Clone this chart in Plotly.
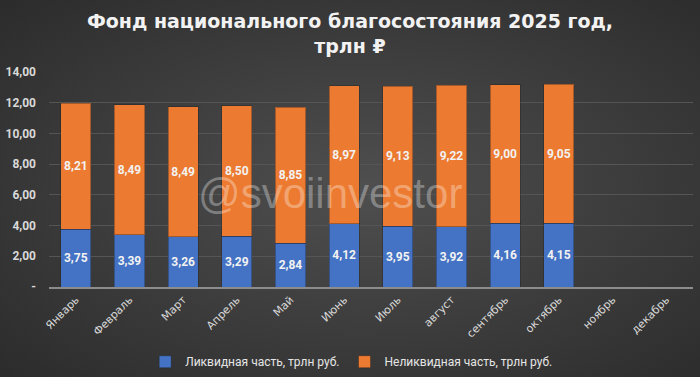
import plotly.graph_objects as go
import urllib.parse

months = ["Январь", "Февраль", "Март", "Апрель", "Май", "Июнь", "Июль",
          "август", "сентябрь", "октябрь", "ноябрь", "декабрь"]
liquid = [3.75, 3.39, 3.26, 3.29, 2.84, 4.12, 3.95, 3.92, 4.16, 4.15, None, None]
illiquid = [8.21, 8.49, 8.49, 8.50, 8.85, 8.97, 9.13, 9.22, 9.00, 9.05, None, None]
ytick_vals = [0, 2, 4, 6, 8, 10, 12, 14]
ytick_text = ["-", "2,00", "4,00", "6,00", "8,00", "10,00", "12,00", "14,00"]

W, H = 700, 377
L, R, T, B = 49, 7, 72, 90
pw, ph = W - L - R, H - T - B


def fmt(v):
    return "" if v is None else f"{v:.2f}".replace(".", ",")


svg = (
    f'<svg xmlns="http://www.w3.org/2000/svg" width="{W}" height="{H}" viewBox="0 0 {W} {H}" preserveAspectRatio="none">'
    '<defs><radialGradient id="g" cx="0.52" cy="0.5" r="0.75">'
    '<stop offset="0" stop-color="#4f4f4f"/><stop offset="1" stop-color="#2a2a2a"/>'
    '</radialGradient></defs>'
    f'<rect width="{W}" height="{H}" fill="url(#g)"/></svg>'
)
bg_src = "data:image/svg+xml;charset=utf-8," + urllib.parse.quote(svg)

fig = go.Figure()
fig.add_trace(go.Bar(
    x=months, y=liquid, name="Ликвидная часть, трлн руб.",
    marker=dict(color="#4472C4", line=dict(color="rgba(30,30,30,0.35)", width=1)),
    text=[fmt(v) for v in liquid], textposition="inside", insidetextanchor="middle",
    textfont=dict(color="#f2f2f2", size=12, family="Roboto", weight="bold"),
))
fig.add_trace(go.Bar(
    x=months, y=illiquid, name="Неликвидная часть, трлн руб.",
    marker=dict(color="#EC7A30", line=dict(color="rgba(30,30,30,0.35)", width=1)),
    text=[fmt(v) for v in illiquid], textposition="inside", insidetextanchor="middle",
    textfont=dict(color="#f2f2f2", size=12, family="Roboto", weight="bold"),
))

fig.update_layout(
    width=W, height=H,
    barmode="stack", bargap=0.44,
    paper_bgcolor="#3a3a3a", plot_bgcolor="rgba(0,0,0,0)",
    margin=dict(l=L, r=R, t=T, b=B, pad=0, autoexpand=False),
    title=dict(
        text="Фонд национального благосостояния 2025 год,<br>трлн ₽",
        x=0.5, xref="container", xanchor="center", y=0.925, yanchor="top",
        font=dict(family="DejaVu Sans", size=19, color="#f2f2f2", weight="bold"),
    ),
    showlegend=True,
    legend=dict(orientation="h", x=0.47, xanchor="center", y=-0.28, yanchor="top",
                traceorder="normal",
                font=dict(family="Roboto", size=12, color="#e6e6e6"),
                bgcolor="rgba(0,0,0,0)", itemwidth=30),
    uniformtext=dict(mode="show", minsize=11),
    images=[dict(source=bg_src, xref="paper", yref="paper",
                 x=-L / pw, y=1 + T / ph, sizex=W / pw, sizey=H / ph,
                 xanchor="left", yanchor="top", sizing="stretch", layer="below")],
    annotations=[dict(text="@svoiinvestor", x=0.436, y=0.437, xref="paper", yref="paper",
                      showarrow=False,
                      font=dict(family="Liberation Sans", size=42, color="rgba(255,255,255,0.33)"))],
)
fig.update_xaxes(
    tickangle=-45, tickfont=dict(family="DejaVu Sans", size=11, color="#d9d9d9"),
    showgrid=False, showline=True, linecolor="#8c8c8c", linewidth=2, ticks="",
    automargin=False,
)
fig.update_yaxes(
    range=[0, 14.0], tickvals=ytick_vals, ticktext=ytick_text,
    tickfont=dict(family="Roboto", size=12, color="#d9d9d9", weight="bold"),
    gridcolor="#555555", gridwidth=1, zeroline=False, showline=False,
    ticklabelstandoff=12, automargin=False,
)

fig.write_html("out.html", config={"displayModeBar": False},
               post_script="document.body.style.margin='0';document.body.style.overflow='hidden';")
